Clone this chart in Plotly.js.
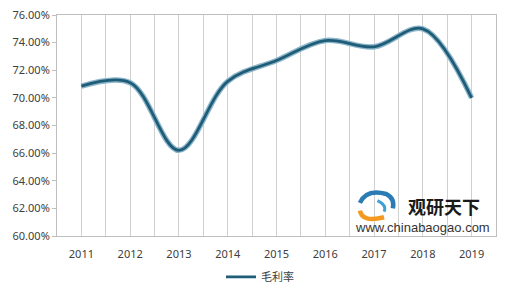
<!DOCTYPE html>
<html><head><meta charset="utf-8">
<script src="https://cdn.plot.ly/plotly-3.0.1.min.js"></script>
<style>html,body{margin:0;padding:0;background:#fff}#c{width:520px;height:290px}</style>
</head><body><div id="c"></div>
<script>
const years = [2011, 2012, 2013, 2014, 2015, 2016, 2017, 2018, 2019];
const yearLabels = ['2011','2012','2013','2014','2015','2016','2017','2018','2019'];
const grossMargin = [70.85, 71.1, 66.2, 71.2, 72.7, 74.15, 73.7, 75.0, 70.0];
const seriesName = '毛利率';
const yTicks = [60, 62, 64, 66, 68, 70, 72, 74, 76];
const yTickLabels = ['60.00%','62.00%','64.00%','66.00%','68.00%','70.00%','72.00%','74.00%','76.00%'];

const minorGrid = years.slice(0, -1).map(y => y + 0.5);
const font = 'Noto Sans, Noto Sans CJK SC, sans-serif';

const traces = [
  {x: years, y: grossMargin, type: 'scatter', mode: 'lines', showlegend: false,
   line: {shape: 'spline', smoothing: 1, color: '#8db6ca', width: 5.5}, hoverinfo: 'skip'},
  {x: years, y: grossMargin, type: 'scatter', mode: 'lines', name: seriesName,
   line: {shape: 'spline', smoothing: 1, color: '#1f5c78', width: 2.8}}
];

const layout = {
  width: 520, height: 290,
  margin: {l: 57, r: 24, t: 15, b: 54},
  paper_bgcolor: '#fff', plot_bgcolor: '#fff',
  font: {family: font, size: 11, color: '#595959'},
  xaxis: {
    type: 'linear', range: [2010.5, 2019.5],
    tickvals: years, ticktext: yearLabels,
    showgrid: true, gridcolor: '#d0d0d0', gridwidth: 1,
    minor: {tickvals: minorGrid, showgrid: true, gridcolor: '#d0d0d0', gridwidth: 1, ticks: ''},
    showline: true, linecolor: '#bfbfbf', linewidth: 1, mirror: true,
    ticks: 'outside', ticklen: 8, tickcolor: 'rgba(0,0,0,0)', zeroline: false,
    automargin: false,
    tickfont: {size: 11, color: '#404040'}
  },
  yaxis: {
    range: [60, 76], tickvals: yTicks, ticktext: yTickLabels,
    showgrid: false, zeroline: false, automargin: false,
    showline: true, linecolor: '#bfbfbf', linewidth: 1, mirror: true,
    ticks: 'outside', ticklen: 4, tickcolor: '#bfbfbf',
    tickfont: {size: 11, color: '#404040'}
  },
  legend: {orientation: 'h', x: 0.5, xref: 'container', xanchor: 'center',
           y: 0.045, yref: 'container', yanchor: 'middle',
           font: {size: 11, color: '#404040'}},
  shapes: [
    {type: 'path', xref: 'paper', yref: 'paper', path: 'M 0.69,0.15 Q 0.705,0.215 0.75,0.19 Q 0.77,0.17 0.765,0.125',
     line: {color: '#2b7bb5', width: 4.5}},
    {type: 'path', xref: 'paper', yref: 'paper', path: 'M 0.73,0.16 Q 0.752,0.14 0.745,0.11',
     line: {color: '#3fa0d8', width: 3}},
    {type: 'path', xref: 'paper', yref: 'paper', path: 'M 0.69,0.115 Q 0.695,0.06 0.745,0.085',
     line: {color: '#f39a1e', width: 4.5}}
  ],
  annotations: [
    {xref: 'paper', yref: 'paper', x: 0.881, y: 0.135, xanchor: 'center', yanchor: 'middle',
     text: '<b>观研天下</b>', showarrow: false, borderpad: 0,
     font: {family: 'Noto Sans CJK SC, sans-serif', size: 18, color: '#1a1a1a'}},
    {xref: 'paper', yref: 'paper', x: 0.832, y: 0.038, xanchor: 'center', yanchor: 'middle',
     text: 'www.chinabaogao.com', showarrow: false, borderpad: 0,
     font: {family: 'Liberation Sans, sans-serif', size: 13, color: '#333'}}
  ]
};

Plotly.newPlot('c', traces, layout, {displayModeBar: false, staticPlot: true});
</script></body></html>
